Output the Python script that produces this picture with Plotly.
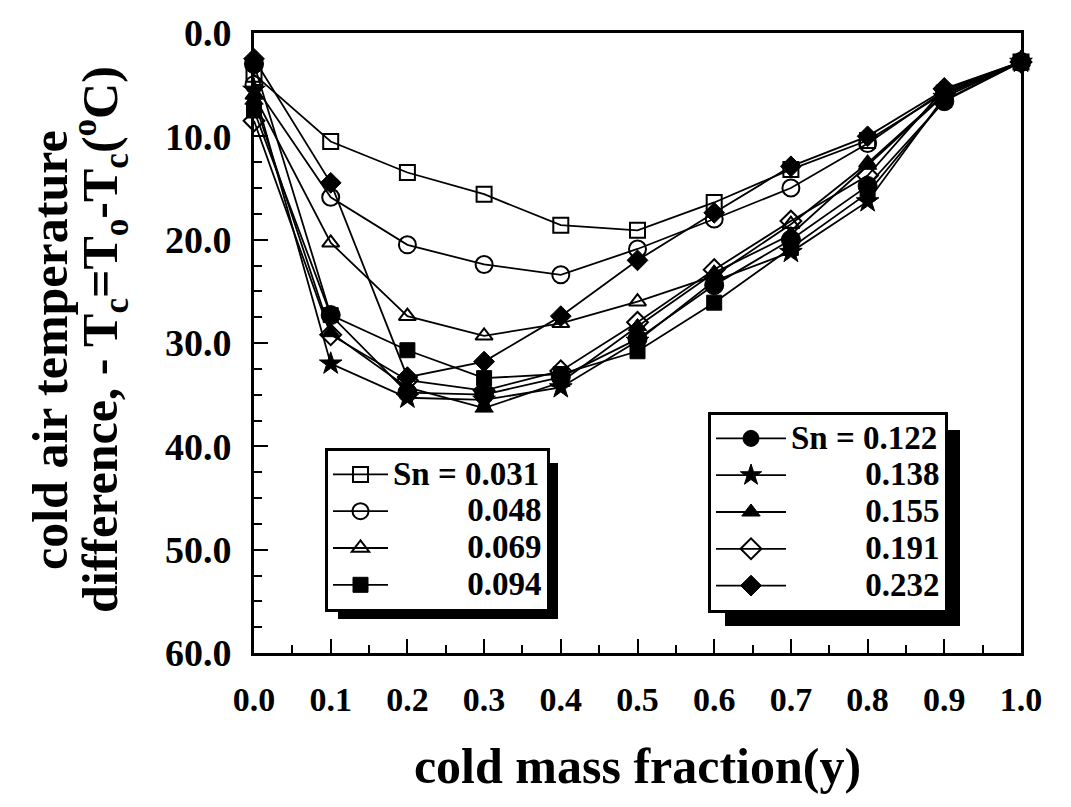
import plotly.graph_objects as go

x_vals = [0.0, 0.1, 0.2, 0.3, 0.4, 0.5, 0.6, 0.7, 0.8, 0.9, 1.0]

sn_031 = [4.0, 10.5, 13.5, 15.6, 18.6, 19.1, 16.4, 13.2, 10.4, 5.8, 2.8]
sn_048 = [5.0, 15.9, 20.5, 22.4, 23.4, 20.9, 18.0, 15.0, 10.7, 5.6, 2.8]
sn_069 = [6.0, 20.3, 27.4, 29.3, 28.1, 26.0, 23.5, 18.5, 12.6, 5.9, 2.8]
sn_094 = [7.5, 27.3, 30.7, 33.4, 33.0, 30.8, 26.1, 20.8, 15.5, 6.5, 2.8]
sn_122 = [3.0, 27.3, 34.8, 35.0, 33.3, 29.6, 24.4, 20.0, 14.8, 6.6, 2.8]
sn_138 = [5.5, 32.0, 35.3, 35.5, 34.3, 29.8, 24.0, 21.2, 16.3, 6.2, 2.8]
sn_155 = [6.5, 29.0, 34.3, 36.3, 33.8, 28.4, 23.2, 19.5, 12.8, 6.0, 2.8]
sn_191 = [8.5, 29.2, 33.6, 34.6, 32.7, 28.0, 22.9, 18.2, 13.8, 5.4, 2.8]
sn_232 = [2.5, 14.5, 33.3, 31.8, 27.4, 22.0, 17.4, 12.9, 10.0, 5.5, 2.8]

series_names = ["0.031", "0.048", "0.069", "0.094", "0.122", "0.138", "0.155", "0.191", "0.232"]
series_values = [sn_031, sn_048, sn_069, sn_094, sn_122, sn_138, sn_155, sn_191, sn_232]
symbols = ["square-open", "circle-open", "triangle-up-open", "square",
           "circle", "star", "triangle-up", "diamond-open", "diamond"]
sizes = [15, 17, 15, 15, 19, 17, 16, 16, 16]
legend_ids = ["legend"] * 4 + ["legend2"] * 5

FONT = "Liberation Serif, Times New Roman, serif"
NB = "\u00a0"

fig = go.Figure()
for i, (name, vals, sym, sz, lg) in enumerate(zip(series_names, series_values, symbols, sizes, legend_ids)):
    first = i in (0, 4)
    raw = ("Sn = " + name) if first else (NB * 9 + name)
    label = '<span style="font-size:33px">' + raw + '</span>'
    is_open = "open" in sym
    fig.add_trace(go.Scatter(
        x=x_vals, y=vals, mode="lines+markers", name=label, legend=lg,
        line=dict(color="black", width=1.8),
        marker=dict(symbol=sym, size=sz, color="black",
                    line=dict(color="black", width=2 if is_open else 1)),
        cliponaxis=False,
    ))

L, R, T, B = 254, 1021, 33, 653
W, H = 1071, 807
pw, ph = R - L, B - T

def px(xp):
    return (xp - L) / pw

def py(yp):
    return (B - yp) / ph

axis_font = dict(family=FONT, size=34, color="black", weight="bold")
legend_font = dict(family=FONT, size=26, color="black", weight="bold")

fig.update_layout(
    width=W, height=H,
    margin=dict(l=L, r=W - R, t=T, b=H - B),
    paper_bgcolor="white", plot_bgcolor="white",
    font=dict(family=FONT, color="black"),
    xaxis=dict(
        range=[0, 1], dtick=0.1, tick0=0, tickformat=".1f",
        showgrid=False, zeroline=False,
        showline=True, linecolor="black", linewidth=3, mirror=True,
        ticks="inside", ticklen=14, tickwidth=2, tickcolor="black",
        minor=dict(dtick=0.05, ticks="inside", ticklen=8, tickwidth=2, tickcolor="black", showgrid=False),
        tickfont=axis_font, ticklabelstandoff=14,
        title=dict(text="cold mass fraction(y)", font=dict(family=FONT, size=50, color="black", weight="bold"),
                   standoff=32),
    ),
    yaxis=dict(
        range=[60, 0], dtick=10, tick0=0, tickformat=".1f",
        showgrid=False, zeroline=False,
        showline=True, linecolor="black", linewidth=3, mirror=True,
        ticks="inside", ticklen=14, tickwidth=2, tickcolor="black",
        minor=dict(dtick=2.5, ticks="inside", ticklen=8, tickwidth=2, tickcolor="black", showgrid=False),
        tickfont=dict(family=FONT, size=38, color="black", weight="bold"), ticklabelstandoff=12,
    ),
    legend=dict(
        x=px(325), y=py(448), xanchor="left", yanchor="top",
        bgcolor="white", bordercolor="black", borderwidth=3,
        font=legend_font, itemwidth=55, tracegroupgap=0,
    ),
    legend2=dict(
        x=px(708), y=py(412), xanchor="left", yanchor="top",
        bgcolor="white", bordercolor="black", borderwidth=3,
        font=legend_font, itemwidth=70, tracegroupgap=0,
    ),
    showlegend=True,
)

# legend drop shadows
fig.add_shape(type="rect", xref="paper", yref="paper", x0=px(338), x1=px(558), y0=py(619), y1=py(463),
              fillcolor="black", line=dict(width=0), layer="above")
fig.add_shape(type="rect", xref="paper", yref="paper", x0=px(725), x1=px(960), y0=py(626), y1=py(430),
              fillcolor="black", line=dict(width=0), layer="above")

# y-axis title (two lines)
title_font = dict(family=FONT, size=50, color="black", weight="bold")
fig.add_annotation(text="cold air temperature", xref="paper", yref="paper",
                   x=px(50), y=py(350), textangle=-90, showarrow=False, font=title_font,
                   xanchor="center", yanchor="middle")
fig.add_annotation(text="difference, - T<sub>c</sub>=T<sub>o</sub>-T<sub>c</sub>(<sup>o</sup>C)",
                   xref="paper", yref="paper",
                   x=px(100), y=py(340), textangle=-90, showarrow=False, font=title_font,
                   xanchor="center", yanchor="middle")

fig.write_html("out.html")
